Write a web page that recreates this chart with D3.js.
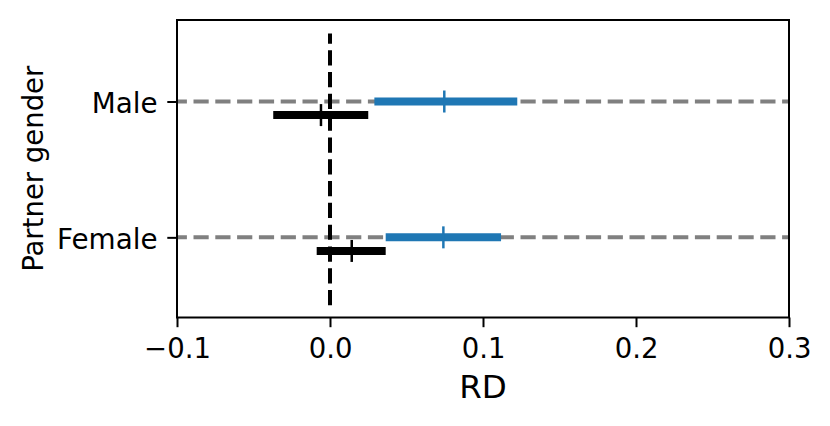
<!DOCTYPE html>
<html><head><meta charset="utf-8">
<script src="https://cdn.jsdelivr.net/npm/d3@7"></script>
<style>
body{margin:0;background:#fff}
svg text{font-family:"DejaVu Sans",sans-serif;fill:#000}
</style></head>
<body>
<svg id="chart" width="830" height="426"></svg>
<script>
// ---- data ----
const categories = ["Male", "Female"];
const catPos = [1, 0];
const blueLow = [0.029, 0.0364];
const blueHigh = [0.1224, 0.1118];
const blueMid = [0.0747, 0.0741];
const blackLow = [-0.0371, -0.0087];
const blackHigh = [0.025, 0.0364];
const blackMid = [-0.0059, 0.0142];
const blackOffset = -0.1;
const xTicks = [-0.1, 0.0, 0.1, 0.2, 0.3];
const vlineX = 0;
const vlineRange = [-0.5, 1.5];
const xLabel = "RD";
const yLabel = "Partner gender";

// ---- layout ----
const L = 177, R = 789, T = 20, B = 317.5;
const svg = d3.select("#chart");
const x = d3.scaleLinear().domain([-0.1, 0.3]).range([L, R]);
const y = d3.scaleLinear().domain([-0.59, 1.6]).range([B, T]);

const rows = categories.map((c, i) => ({
  c, p: catPos[i],
  bl: blueLow[i], bh: blueHigh[i], bm: blueMid[i],
  kl: blackLow[i], kh: blackHigh[i], km: blackMid[i]
}));

// gray dashed horizontal lines
svg.selectAll("line.h").data(rows).enter().append("line")
  .attr("x1", L).attr("x2", R)
  .attr("y1", d => y(d.p)).attr("y2", d => y(d.p))
  .attr("stroke", "#808080").attr("stroke-width", 4)
  .attr("stroke-dasharray", "15.2,6.6").attr("stroke-dashoffset", 5.3);

// vertical dashed line at 0 (drawn bottom -> top)
svg.append("line")
  .attr("x1", x(vlineX)).attr("x2", x(vlineX))
  .attr("y1", y(vlineRange[0])).attr("y2", y(vlineRange[1]))
  .attr("stroke", "#000").attr("stroke-width", 4)
  .attr("stroke-dasharray", "15.2,6.6");

// blue bars
svg.selectAll("line.b").data(rows).enter().append("line")
  .attr("x1", d => x(d.bl)).attr("x2", d => x(d.bh))
  .attr("y1", d => y(d.p)).attr("y2", d => y(d.p))
  .attr("stroke", "#1f77b4").attr("stroke-width", 8);
svg.selectAll("line.bm").data(rows).enter().append("line")
  .attr("x1", d => x(d.bm)).attr("x2", d => x(d.bm))
  .attr("y1", d => y(d.p) - 11).attr("y2", d => y(d.p) + 11)
  .attr("stroke", "#1f77b4").attr("stroke-width", 2.5);

// black bars
svg.selectAll("line.k").data(rows).enter().append("line")
  .attr("x1", d => x(d.kl)).attr("x2", d => x(d.kh))
  .attr("y1", d => y(d.p + blackOffset)).attr("y2", d => y(d.p + blackOffset))
  .attr("stroke", "#000").attr("stroke-width", 8);
svg.selectAll("line.km").data(rows).enter().append("line")
  .attr("x1", d => x(d.km)).attr("x2", d => x(d.km))
  .attr("y1", d => y(d.p + blackOffset) - 11).attr("y2", d => y(d.p + blackOffset) + 11)
  .attr("stroke", "#000").attr("stroke-width", 2.5);

// frame
svg.append("rect").attr("x", L).attr("y", T).attr("width", R - L).attr("height", B - T)
  .attr("fill", "none").attr("stroke", "#000").attr("stroke-width", 2);

// x axis
const gx = svg.append("g").attr("transform", `translate(0,${B})`)
  .call(d3.axisBottom(x).tickValues(xTicks).tickFormat(d3.format(".1f")).tickSize(9.7).tickPadding(11));
gx.select(".domain").remove();
gx.selectAll(".tick line").attr("stroke", "#000").attr("stroke-width", 2);
gx.selectAll(".tick text").style("font-size", "27.5px").style("font-family", "DejaVu Sans");

// y axis
const gy = svg.append("g").attr("transform", `translate(${L},0)`)
  .call(d3.axisLeft(y).tickValues(catPos).tickFormat((d, i) => categories[i]).tickSize(9.7).tickPadding(9.8));
gy.select(".domain").remove();
gy.selectAll(".tick line").attr("stroke", "#000").attr("stroke-width", 2);
gy.selectAll(".tick text").style("font-size", "27.8px").style("font-family", "DejaVu Sans").attr("dy", "0.39em");

// labels
svg.append("text").attr("x", (L + R) / 2).attr("y", 398).attr("text-anchor", "middle")
  .style("font-size", "32.5px").text(xLabel);
svg.append("text").attr("transform", `translate(43,${(T + B) / 2}) rotate(-90)`)
  .attr("text-anchor", "middle").style("font-size", "27.5px").text(yLabel);
</script>
</body></html>
